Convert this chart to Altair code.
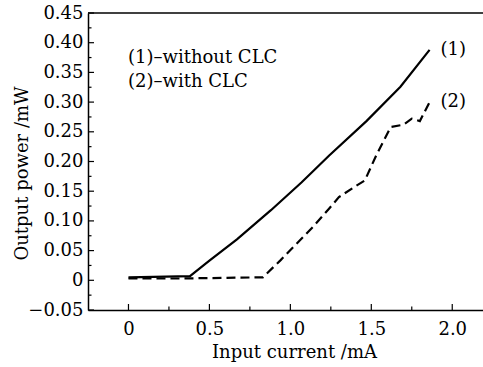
import altair as alt
import pandas as pd

# Curve (1) without CLC
x1 = [0, 0.38, 0.5, 0.67, 0.88, 1.07, 1.24, 1.47, 1.68, 1.86]
y1 = [0.005, 0.007, 0.033, 0.069, 0.118, 0.165, 0.210, 0.268, 0.326, 0.388]
# Curve (2) with CLC
x2 = [0, 0.3, 0.83, 0.94, 1.04, 1.14, 1.24, 1.30, 1.40, 1.46, 1.53, 1.62, 1.70, 1.75, 1.80, 1.86]
y2 = [0.003, 0.003, 0.005, 0.034, 0.062, 0.090, 0.121, 0.140, 0.158, 0.168, 0.210, 0.258, 0.262, 0.272, 0.268, 0.300]

x_major = [0, 0.5, 1.0, 1.5, 2.0]
x_minor = [0.25, 0.75, 1.25, 1.75]
y_major = [-0.05, 0, 0.05, 0.10, 0.15, 0.20, 0.25, 0.30, 0.35, 0.40, 0.45]
y_minor = [-0.025, 0.025, 0.075, 0.125, 0.175, 0.225, 0.275, 0.325, 0.375, 0.425]

end_labels = ["(1)", "(2)"]
legend_lines = ["(1)\u2013without CLC", "(2)\u2013with CLC"]

FONT = "DejaVu Serif"
FS = 18
W, H = 395, 297

df1 = pd.DataFrame({"x": x1, "y": y1})
df2 = pd.DataFrame({"x": x2, "y": y2})
df_end = pd.DataFrame({"x": [x1[-1], x2[-1]], "y": [y1[-1], y2[-1]], "t": end_labels})

xs = alt.Scale(domain=[-0.25, 2.19], nice=False, zero=False)
ys = alt.Scale(domain=[-0.05, 0.45], nice=False, zero=False)

x_axis = alt.Axis(values=x_major, ticks=False, grid=False,
                  labelExpr="datum.value == 0 ? '0' : format(datum.value, '.1f')",
                  labelPadding=10, labelFontSize=FS, labelFont=FONT, labelColor="black",
                  domainColor="black", domainWidth=1.5,
                  title="Input current /mA", titleFont=FONT, titleFontSize=FS,
                  titleFontWeight="normal", titleColor="black",
                  titleX=206, titleY=47, titleBaseline="alphabetic")
y_axis = alt.Axis(values=y_major, ticks=False, grid=False,
                  labelExpr="datum.value == 0 ? '0' : format(datum.value, '.2f')",
                  labelPadding=5, labelFontSize=FS, labelFont=FONT, labelColor="black",
                  domainColor="black", domainWidth=1.5,
                  title="Output power /mW", titleFont=FONT, titleFontSize=FS,
                  titleFontWeight="normal", titleColor="black",
                  titleX=-61, titleY=160, titleBaseline="alphabetic", titleAngle=-90)

X = lambda: alt.X("x:Q", scale=xs, axis=x_axis)
Y = lambda: alt.Y("y:Q", scale=ys, axis=y_axis)

line1 = alt.Chart(df1).mark_line(color="black", strokeWidth=2.2).encode(x=X(), y=Y())
line2 = alt.Chart(df2).mark_line(color="black", strokeWidth=2.2, strokeDash=[9, 5]).encode(x=X(), y=Y())

ends = alt.Chart(df_end).mark_text(font=FONT, fontSize=FS, align="left", baseline="middle",
                                   dx=11, color="black").encode(x=X(), y=Y(), text="t:N")

xmaj = alt.Chart(pd.DataFrame({"x": x_major})).mark_rule(color="black", strokeWidth=1.2).encode(
    x=X(), y=alt.value(H), y2=alt.value(H - 6))
xmin = alt.Chart(pd.DataFrame({"x": x_minor})).mark_rule(color="black", strokeWidth=1.2).encode(
    x=X(), y=alt.value(H), y2=alt.value(H - 3.5))
ymaj = alt.Chart(pd.DataFrame({"y": y_major})).mark_rule(color="black", strokeWidth=1.2).encode(
    y=Y(), x=alt.value(0), x2=alt.value(6))
ymin = alt.Chart(pd.DataFrame({"y": y_minor})).mark_rule(color="black", strokeWidth=1.2).encode(
    y=Y(), x=alt.value(0), x2=alt.value(3.5))

top = alt.Chart(pd.DataFrame({"a": [0]})).mark_rule(color="black", strokeWidth=1.5).encode(
    y=alt.value(0), x=alt.value(0), x2=alt.value(W))

legend = alt.Chart(pd.DataFrame({"t": legend_lines, "yy": [50, 74]})).mark_text(
    font=FONT, fontSize=FS, align="left", baseline="alphabetic", color="black").encode(
    x=alt.value(40), y=alt.Y("yy:Q", scale=None), text="t:N")

chart = alt.layer(line1, line2, ends, xmaj, xmin, ymaj, ymin, top, legend).properties(
    width=W, height=H,
    autosize=alt.AutoSizeParams(type="none"),
    padding={"left": 88, "top": 13, "right": 0, "bottom": 57},
    background="white",
).configure_view(stroke=None)

chart.save("out.html", embed_options={"renderer": "svg", "actions": False})
